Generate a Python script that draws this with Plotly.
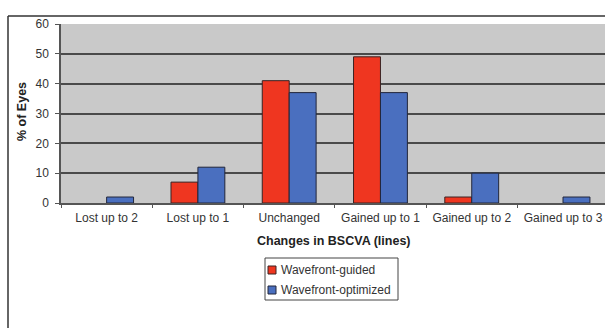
import plotly.graph_objects as go

categories = ["Lost up to 2", "Lost up to 1", "Unchanged", "Gained up to 1", "Gained up to 2", "Gained up to 3"]
guided = [0, 7, 41, 49, 2, 0]
optimized = [2, 12, 37, 37, 10, 2]
y_ticks = [0, 10, 20, 30, 40, 50, 60]

series = [
    ("Wavefront-guided", guided, "#ef3620", "#3a2222"),
    ("Wavefront-optimized", optimized, "#4a6fbf", "#22263a"),
]

FONT = "Liberation Sans, Arial, sans-serif"
W, H = 605, 328
ML, MT, MB = 61, 24, 125
PW, PH = W - ML, H - MT - MB


def px(x):
    """pixel column -> paper x"""
    return (x - ML) / PW


def py(y):
    """pixel row -> paper y"""
    return (H - MB - y) / PH


fig = go.Figure()
for name, vals, fill, edge in series:
    fig.add_trace(go.Bar(
        x=categories, y=vals, name=name, showlegend=False,
        marker=dict(color=fill, line=dict(color=edge, width=[0 if v == 0 else 1 for v in vals])),
    ))

# outer chart frame (left and top edges)
fig.add_shape(type="line", xref="paper", yref="paper", x0=px(8), x1=px(8), y0=py(400), y1=py(16),
              line=dict(color="#333333", width=1.5))
fig.add_shape(type="line", xref="paper", yref="paper", x0=px(8), x1=px(700), y0=py(16), y1=py(16),
              line=dict(color="#333333", width=1.5))

# axis titles
fig.add_annotation(text="<b>Changes in BSCVA (lines)</b>", xref="paper", yref="paper",
                   x=px(334), y=py(241), xanchor="center", yanchor="middle", showarrow=False,
                   font=dict(family=FONT, size=12.5, color="#222"))
fig.add_annotation(text="<b>% of Eyes</b>", xref="paper", yref="paper", textangle=-90,
                   x=px(22), y=py(112), xanchor="center", yanchor="middle", showarrow=False,
                   font=dict(family=FONT, size=12.5, color="#222"))

# legend box with swatches
fig.add_shape(type="rect", xref="paper", yref="paper", x0=px(265), x1=px(398), y0=py(300), y1=py(258),
              line=dict(color="#444", width=1), fillcolor="white")
for i, (name, vals, fill, edge) in enumerate(series):
    cy = 270 + 20 * i
    fig.add_shape(type="rect", xref="paper", yref="paper", x0=px(268), x1=px(276),
                  y0=py(cy + 4), y1=py(cy - 4), fillcolor=fill, line=dict(color=edge, width=1))
    fig.add_annotation(text=name, xref="paper", yref="paper", x=px(279), y=py(cy),
                       xanchor="left", yanchor="middle", showarrow=False,
                       font=dict(family=FONT, size=12, color="#333"))

fig.update_layout(
    width=W, height=H,
    margin=dict(l=ML, r=0, t=MT, b=MB),
    paper_bgcolor="white", plot_bgcolor="#c9c9c9",
    barmode="group", bargap=0.41, bargroupgap=0,
    font=dict(family=FONT, size=12, color="#333"),
    showlegend=False,
    xaxis=dict(range=[-0.5, 5.46], showline=True, linecolor="#555", linewidth=1.5,
               ticks="outside", tickson="boundaries", ticklen=3, tickcolor="#555",
               showgrid=False, fixedrange=True, tickfont=dict(size=12), ticklabelstandoff=3),
    yaxis=dict(range=[0, 60], tickvals=y_ticks, showline=True, linecolor="#555", linewidth=1.5,
               ticks="outside", ticklen=4, tickcolor="#555", tickfont=dict(size=12),
               ticklabelstandoff=4, gridcolor="#4a4a4a", gridwidth=1.5, zeroline=False),
)

fig.write_html("out.html")
